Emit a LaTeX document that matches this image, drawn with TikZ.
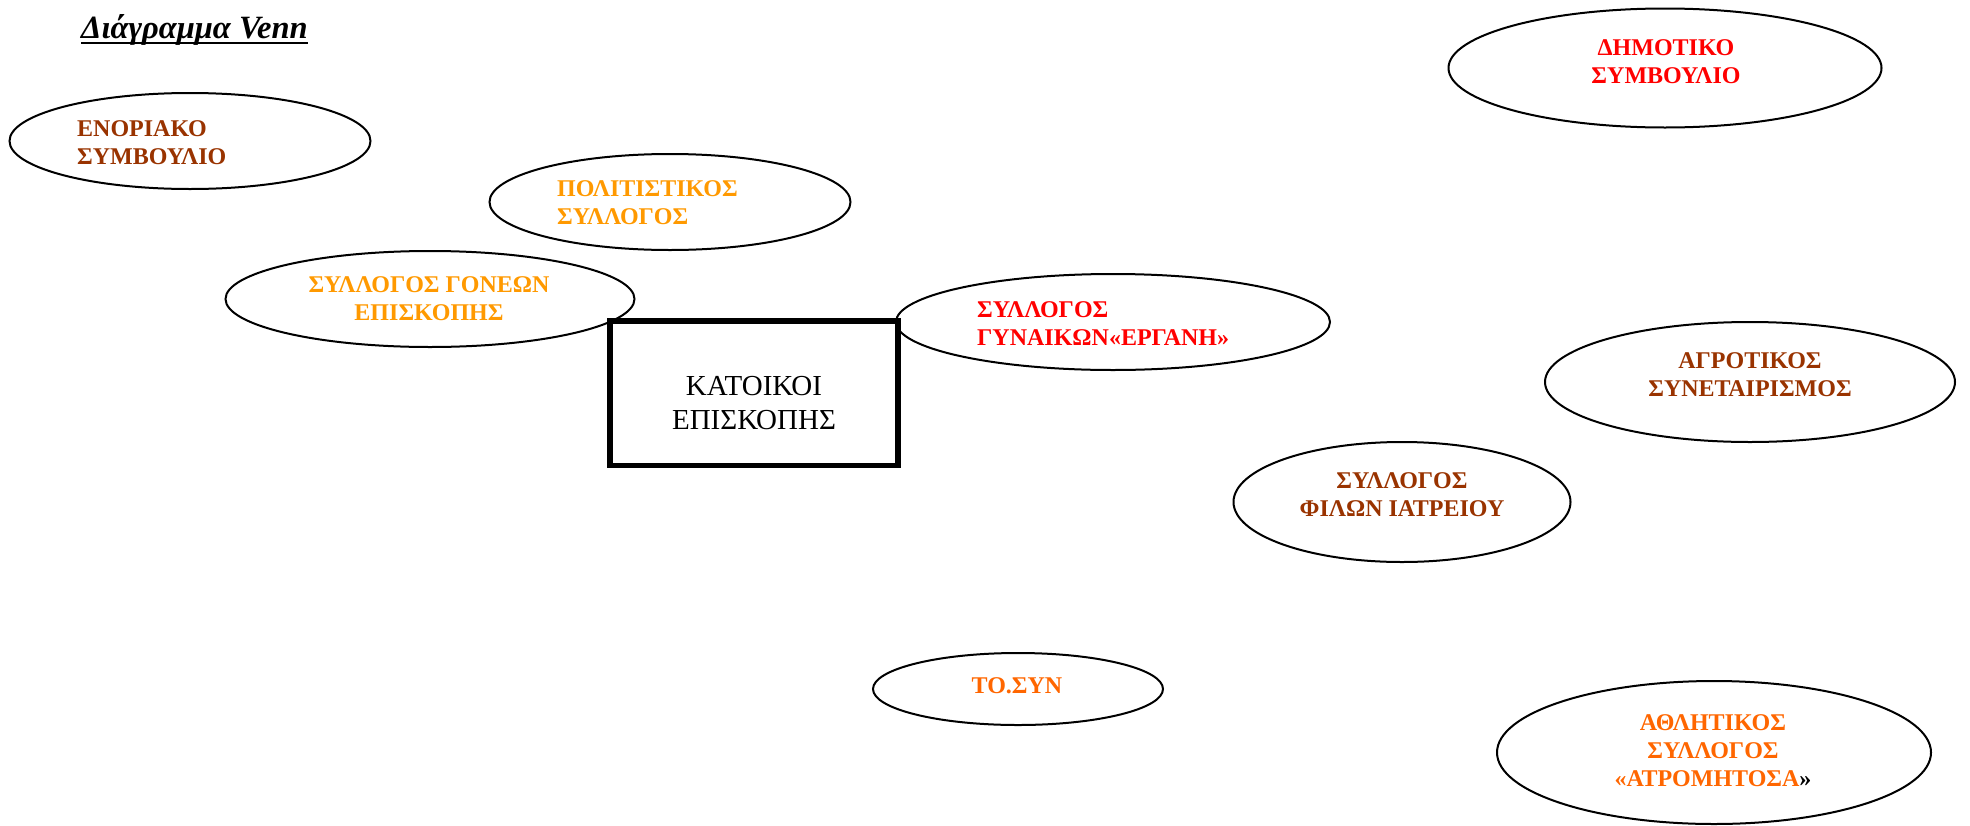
\documentclass[tikz,border=0pt]{standalone}
\usepackage{fontspec}
\setmainfont{Liberation Serif}
\usetikzlibrary{shapes.geometric,calc}
\definecolor{brn}{RGB}{153,51,0}
\definecolor{orgA}{RGB}{255,153,0}
\definecolor{redc}{RGB}{255,0,0}
\definecolor{orgB}{RGB}{255,102,0}
\begin{document}
\begin{tikzpicture}[x=1pt,y=-1pt,
  oval/.style={draw,ellipse,line width=2pt,inner sep=0pt},
  lbl/.style={inner sep=0pt,font=\fontsize{24}{28}\selectfont\bfseries},
]
\useasboundingbox (0,0) rectangle (1970,825);
% title
\node[anchor=base west,inner sep=0pt,font=\fontsize{32.5}{36}\selectfont\bfseries\itshape] (title) at (81,38) {Διάγραμμα Venn};
\draw[line width=2.7pt] ($(title.base west)+(0,5)$) -- ($(title.base east)+(0,5)$);
% central box
\node[draw,line width=5.6pt,minimum width=288.5pt,minimum height=144.5pt,inner sep=0pt] (box) at (754,393.3) {};
\node[inner sep=0pt,align=center,font=\fontsize{29}{34}\selectfont] (boxtxt) at (754,402.7) {ΚΑΤΟΙΚΟΙ\\ΕΠΙΣΚΟΠΗΣ};
% ellipses
\node[oval,minimum width=361pt,minimum height=96pt] (enor) at (190,141) {};
\node[oval,minimum width=361pt,minimum height=96pt] (polit) at (670,202) {};
\node[oval,minimum width=409pt,minimum height=96pt] (gonewn) at (430,299) {};
\node[oval,minimum width=434pt,minimum height=96pt] (gyn) at (1113,322) {};
\node[oval,minimum width=433pt,minimum height=119pt] (dimot) at (1665,68) {};
\node[oval,minimum width=410pt,minimum height=120pt] (agrot) at (1750,382) {};
\node[oval,minimum width=337pt,minimum height=120pt] (filon) at (1402,502) {};
\node[oval,minimum width=290pt,minimum height=72pt] (tosyn) at (1018,689) {};
\node[oval,minimum width=434pt,minimum height=143pt] (atrom) at (1714,752.5) {};
% labels
\node[lbl,text=brn,align=left,anchor=west] (tenor) at (77,143) {ΕΝΟΡΙΑΚΟ\\ΣΥΜΒΟΥΛΙΟ};
\node[lbl,text=orgA,align=left,anchor=west] (tpolit) at (557,202.5) {ΠΟΛΙΤΙΣΤΙΚΟΣ\\ΣΥΛΛΟΓΟΣ};
\node[lbl,text=orgA,align=center] (tgonewn) at (429,299) {ΣΥΛΛΟΓΟΣ ΓΟΝΕΩΝ\\ΕΠΙΣΚΟΠΗΣ};
\node[lbl,text=redc,align=left,anchor=west] (tgyn) at (977,323.5) {ΣΥΛΛΟΓΟΣ\\ΓΥΝΑΙΚΩΝ«ΕΡΓΑΝΗ»};
\node[lbl,text=redc,align=center] (tdimot) at (1666,62) {ΔΗΜΟΤΙΚΟ\\ΣΥΜΒΟΥΛΙΟ};
\node[lbl,text=brn,align=center] (tagrot) at (1750,374.5) {ΑΓΡΟΤΙΚΟΣ\\ΣΥΝΕΤΑΙΡΙΣΜΟΣ};
\node[lbl,text=brn,align=center] (tfilon) at (1402,495) {ΣΥΛΛΟΓΟΣ\\ΦΙΛΩΝ ΙΑΤΡΕΙΟΥ};
\node[lbl,text=orgB,align=center] (ttosyn) at (1017,686) {ΤΟ.ΣΥΝ};
\node[lbl,text=orgB,align=center] (tatrom) at (1713,751) {ΑΘΛΗΤΙΚΟΣ\\ΣΥΛΛΟΓΟΣ\\«ΑΤΡΟΜΗΤΟΣΑ\textcolor{black}{»}};
\end{tikzpicture}
\end{document}
